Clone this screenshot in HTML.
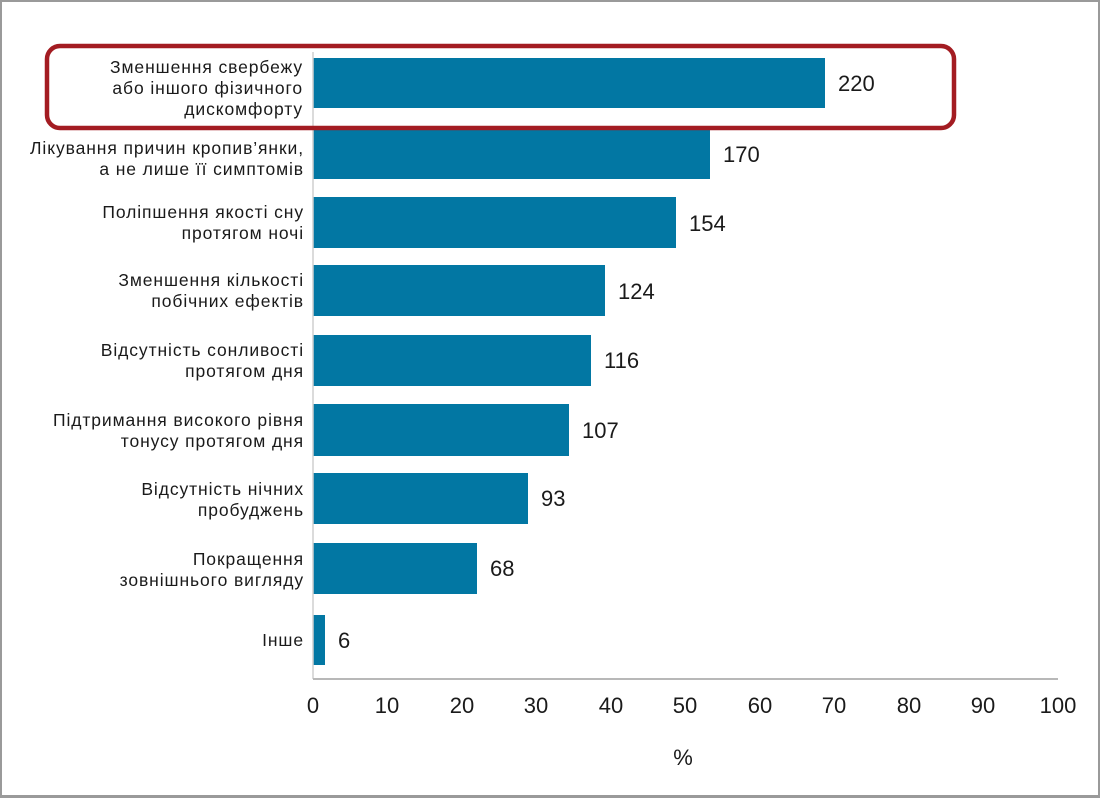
<!DOCTYPE html>
<html><head><meta charset="utf-8"><style>
body{margin:0;background:#fff}
svg{display:block}
text{font-family:"Liberation Sans",sans-serif;fill:#1a1a1a}
</style></head><body>
<svg width="1100" height="798" viewBox="0 0 1100 798">
<rect x="0.5" y="0.5" width="1099" height="796" fill="#fff" stroke="#9a9a9a" stroke-width="3"/>
<g fill="#0277a3">
<rect x="313" y="58" width="512" height="50"/>
<rect x="313" y="129" width="397" height="50"/>
<rect x="313" y="197" width="363" height="51"/>
<rect x="313" y="265" width="292" height="51"/>
<rect x="313" y="335" width="278" height="51"/>
<rect x="313" y="404" width="256" height="52"/>
<rect x="313" y="473" width="215" height="51"/>
<rect x="313" y="543" width="164" height="51"/>
<rect x="313" y="615" width="12" height="50"/>
</g>
<line x1="313" y1="52" x2="313" y2="679" stroke="#cfcfcf" stroke-width="1.5"/>
<line x1="313" y1="679" x2="1058" y2="679" stroke="#b8b8b8" stroke-width="2"/>
<rect x="47" y="46" width="907" height="82" rx="13" fill="none" stroke="#a31c22" stroke-width="4.5"/>
<g font-size="17.5" text-anchor="end" letter-spacing="0.9">
<text x="303" y="73">Зменшення свербежу</text>
<text x="303" y="94">або іншого фізичного</text>
<text x="303" y="115">дискомфорту</text>
<text x="304" y="154">Лікування причин кропив’янки,</text>
<text x="304" y="175">а не лише її симптомів</text>
<text x="304" y="218">Поліпшення якості сну</text>
<text x="304" y="239">протягом ночі</text>
<text x="304" y="286">Зменшення кількості</text>
<text x="304" y="307">побічних ефектів</text>
<text x="304" y="356">Відсутність сонливості</text>
<text x="304" y="377">протягом дня</text>
<text x="304" y="426">Підтримання високого рівня</text>
<text x="304" y="447">тонусу протягом дня</text>
<text x="304" y="495">Відсутність нічних</text>
<text x="304" y="516">пробуджень</text>
<text x="304" y="565">Покращення</text>
<text x="304" y="586">зовнішнього вигляду</text>
<text x="304" y="646">Інше</text>
</g>
<g font-size="22">
<text x="838" y="91">220</text>
<text x="723" y="162">170</text>
<text x="689" y="231">154</text>
<text x="618" y="299">124</text>
<text x="604" y="368">116</text>
<text x="582" y="438">107</text>
<text x="541" y="506">93</text>
<text x="490" y="576">68</text>
<text x="338" y="648">6</text>
</g>
<g font-size="22" text-anchor="middle">
<text x="313" y="713">0</text><text x="387" y="713">10</text><text x="462" y="713">20</text>
<text x="536" y="713">30</text><text x="611" y="713">40</text><text x="685" y="713">50</text>
<text x="760" y="713">60</text><text x="834" y="713">70</text><text x="909" y="713">80</text>
<text x="983" y="713">90</text><text x="1058" y="713">100</text>
<text x="683" y="765">%</text>
</g>
</svg>
</body></html>
